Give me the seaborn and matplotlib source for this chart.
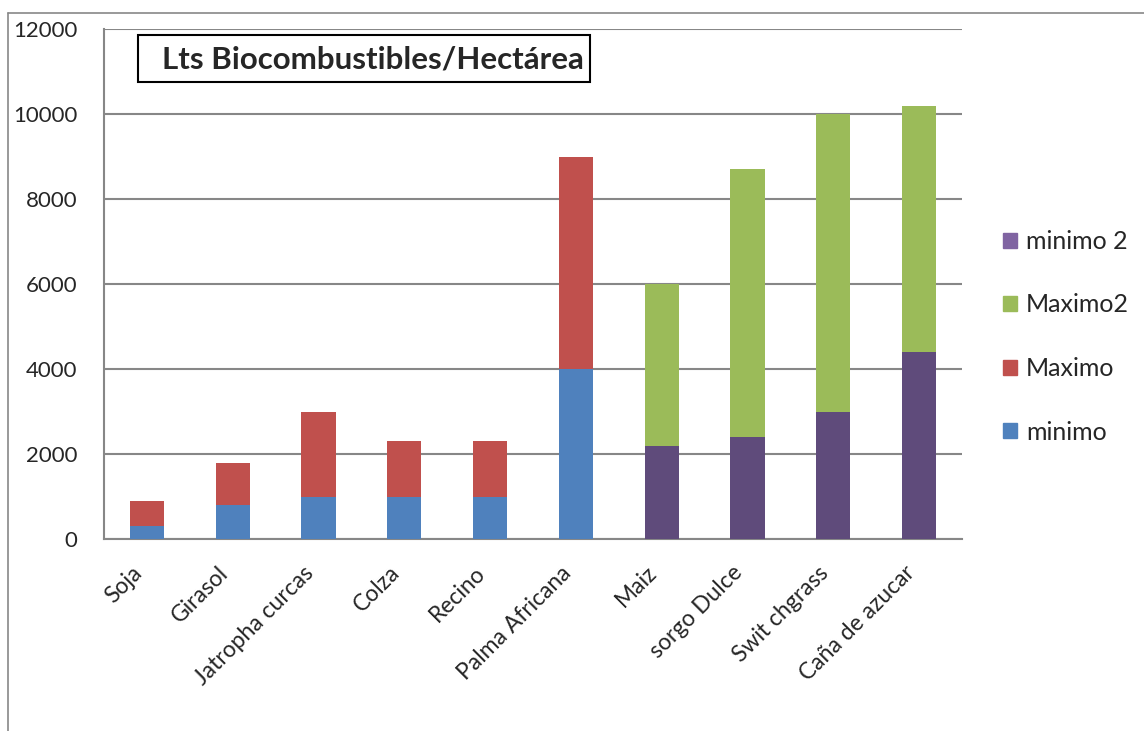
import numpy as np
import pandas as pd
import matplotlib
matplotlib.use("Agg")
import matplotlib.pyplot as plt
import matplotlib.patches as mpatches
import matplotlib.transforms as mtransforms
from matplotlib.lines import Line2D
import seaborn as sns

# data
cultivos = ['Soja', 'Girasol', 'Jatropha curcas', 'Colza', 'Recino', 'Palma Africana',
            'Maiz', 'sorgo Dulce', 'Swit chgrass', 'Caña de azucar']
grupo = ['1', '1', '1', '1', '1', '1', '2', '2', '2', '2']
minimo = [300, 800, 1000, 1000, 1000, 4000, 2200, 2400, 3000, 4400]
maximo = [600, 1000, 2000, 1300, 1300, 5000, 3800, 6300, 7000, 5800]
yticks = [0, 2000, 4000, 6000, 8000, 10000, 12000]
titulo = 'Lts Biocombustibles/Hectárea'

azul = '#4F81BD'
rojo = '#C0504D'
verde = '#9BBB59'
morado = '#5F4B7B'
morado_leg = '#8064A2'
gris = '#878787'

df = pd.DataFrame({'cultivo': cultivos, 'grupo': grupo,
                   'minimo': minimo, 'maximo': maximo})
df['tope'] = df['minimo'] + df['maximo']

sns.set_theme(style='white')
plt.rcParams['font.family'] = ['Lato', 'DejaVu Sans']
fs = 16

W, H = 1144, 731
fig = plt.figure(figsize=(W/100, H/100), dpi=100)
ax = fig.add_axes([104/W, 1-539/H, (962-104)/W, (539-29)/H])

# stacked bars: total first, then the lower segment on top
sns.barplot(data=df, x='cultivo', y='tope', hue='grupo', order=cultivos,
            palette={'1': rojo, '2': verde}, dodge=False, width=0.4, saturation=1,
            linewidth=0, legend=False, ax=ax, zorder=3)
sns.barplot(data=df, x='cultivo', y='minimo', hue='grupo', order=cultivos,
            palette={'1': azul, '2': morado}, dodge=False, width=0.4, saturation=1,
            linewidth=0, legend=False, ax=ax, zorder=3)

ax.set_ylim(0, 12000)
ax.set_xlim(-0.5, len(cultivos)-0.5)
ax.set_yticks(yticks)
ax.set_yticklabels([str(v) for v in yticks], fontsize=fs)
ax.yaxis.grid(True, color=gris, linewidth=1.5, zorder=0)
ax.set_axisbelow(True)
ax.set_xlabel('')
ax.set_ylabel('')

# category ticks on boundaries, labels at centers
ax.set_xticks(np.arange(len(cultivos)+1)-0.5, minor=False)
ax.set_xticklabels([])
ax.set_xticks(np.arange(len(cultivos)), minor=True)
ax.set_xticklabels(cultivos, minor=True, rotation=45, ha='right',
                   va='center', rotation_mode='anchor', fontsize=16.5)
ax.tick_params(axis='x', which='minor', length=0, pad=22)
ax.tick_params(axis='x', which='major', length=6, width=1.5, color=gris, direction='out')
ax.tick_params(axis='y', length=6, width=1.5, color=gris, direction='out', pad=13)
shift = mtransforms.ScaledTranslation(-8/100, 0, fig.dpi_scale_trans)
for lab in ax.get_xticklabels(minor=True):
    lab.set_transform(lab.get_transform() + shift)

for s in ['top', 'right']:
    ax.spines[s].set_visible(False)
for s in ['left', 'bottom']:
    ax.spines[s].set_color(gris)
    ax.spines[s].set_linewidth(1.5)

# title box
fig.add_artist(mpatches.Rectangle((138/W, 1-82/H), (590-138)/W, (82-35)/H,
                                  transform=fig.transFigure, facecolor='white',
                                  edgecolor='black', linewidth=1.5, zorder=5))
fig.text(162/W, 1-60/H, titulo, fontsize=22.5, fontweight='bold',
         va='center', ha='left', zorder=6)

# legend
handles = [mpatches.Patch(color=morado_leg, label='minimo 2'),
           mpatches.Patch(color=verde, label='Maximo2'),
           mpatches.Patch(color=rojo, label='Maximo'),
           mpatches.Patch(color=azul, label='minimo')]
fig.legend(handles=handles, loc='upper left', bbox_to_anchor=(1003/W, 1-230/H),
           frameon=False, fontsize=18, borderpad=0, borderaxespad=0,
           handlelength=0.56, handleheight=0.56, handletextpad=0.35, labelspacing=1.62)

# chart area border (partially visible)
fig.add_artist(Line2D([8/W, 8/W], [0, 1-13/H], color=gris, linewidth=1.2))
fig.add_artist(Line2D([8/W, 1], [1-13/H, 1-13/H], color=gris, linewidth=1.2))

fig.savefig('out.png', dpi=100)
